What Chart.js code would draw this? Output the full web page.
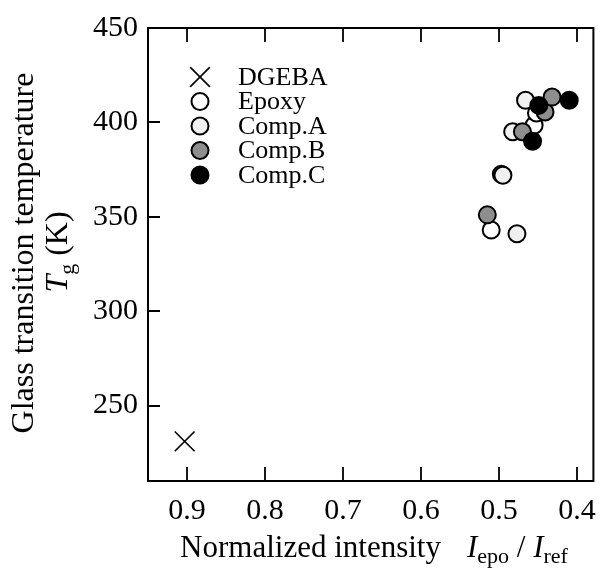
<!DOCTYPE html>
<html>
<head>
<meta charset="utf-8">
<script src="https://cdn.jsdelivr.net/npm/chart.js@4/dist/chart.umd.min.js"></script>
<style>
  html, body { margin: 0; padding: 0; background: #fff; }
  canvas { display: block; }
</style>
</head>
<body>
<canvas id="tgChart" width="609" height="570"></canvas>
<script>
// Glass transition temperature vs. normalized epoxy band intensity
const seriesNames = ['DGEBA', 'Epoxy', 'Comp.A', 'Comp.B', 'Comp.C'];

const dgebaX = [0.903];
const dgebaY = [231];
const epoxyX = [0.510, 0.497, 0.455, 0.452];
const epoxyY = [343, 372.5, 398.5, 405];
const compAX = [0.477, 0.495, 0.4825, 0.466];
const compAY = [341, 372, 395, 411.7];
const compBX = [0.515, 0.470, 0.441, 0.432];
const compBY = [351, 395, 405.5, 413.4];
const compCX = [0.457, 0.449, 0.410];
const compCY = [390, 409, 411.7];

const xTicks = [0.9, 0.8, 0.7, 0.6, 0.5, 0.4];
const yTicks = [250, 300, 350, 400, 450];

const SERIF = '"Liberation Serif", "Times New Roman", serif';

function toPoints(xs, ys) {
  return xs.map((x, i) => ({ x: x, y: ys[i] }));
}

function circleSet(label, xs, ys, fill, order) {
  return {
    label: label,
    data: toPoints(xs, ys),
    pointStyle: 'circle',
    pointRadius: 8.5,
    pointHoverRadius: 8.5,
    pointBorderWidth: 2,
    pointBackgroundColor: fill,
    pointBorderColor: '#000',
    order: order
  };
}

const datasets = [
  {
    label: seriesNames[0],
    data: toPoints(dgebaX, dgebaY),
    pointStyle: 'crossRot',
    pointRadius: 14,
    pointHoverRadius: 14,
    pointBorderWidth: 1.6,
    pointBorderColor: '#000',
    pointBackgroundColor: '#000',
    order: 4
  },
  circleSet(seriesNames[1], epoxyX, epoxyY, '#ffffff', 3),
  circleSet(seriesNames[2], compAX, compAY, '#f0f0f0', 2),
  circleSet(seriesNames[3], compBX, compBY, '#8e8e8e', 1),
  circleSet(seriesNames[4], compCX, compCY, '#000000', 0)
];

// white page, frame and inward tick marks
const framePlugin = {
  id: 'frame',
  beforeDraw(chart) {
    const ctx = chart.ctx;
    ctx.save();
    ctx.fillStyle = '#fff';
    ctx.fillRect(0, 0, chart.width, chart.height);
    ctx.restore();
  },
  afterDatasetsDraw(chart) {
    const { ctx, chartArea: a, scales } = chart;
    ctx.save();
    ctx.strokeStyle = '#000';
    ctx.lineWidth = 2;
    ctx.strokeRect(a.left, a.top, a.right - a.left, a.bottom - a.top);
    ctx.lineWidth = 1.8;
    ctx.beginPath();
    xTicks.forEach(v => {
      const px = Math.round(scales.x.getPixelForValue(v));
      ctx.moveTo(px, a.bottom);
      ctx.lineTo(px, a.bottom - 14);
      ctx.moveTo(px, a.top);
      ctx.lineTo(px, a.top + 14);
    });
    yTicks.forEach(v => {
      const py = Math.round(scales.y.getPixelForValue(v));
      ctx.moveTo(a.left, py);
      ctx.lineTo(a.left + 12, py);
    });
    ctx.stroke();
    ctx.restore();
  }
};

// legend in the upper left of the plot
const legendPlugin = {
  id: 'insideLegend',
  afterDraw(chart) {
    const ctx = chart.ctx;
    const rowY = [77, 101.5, 126, 150.5, 175];
    ctx.save();
    seriesNames.forEach((name, i) => {
      const el = chart.getDatasetMeta(i).data[0];
      const o = el.options;
      ctx.fillStyle = o.backgroundColor;
      ctx.strokeStyle = o.borderColor;
      ctx.lineWidth = o.borderWidth;
      Chart.helpers.drawPoint(ctx, {
        pointStyle: o.pointStyle,
        rotation: 0,
        radius: o.radius,
        borderWidth: o.borderWidth
      }, 200, rowY[i]);
      ctx.fillStyle = '#000';
      ctx.font = '26px ' + SERIF;
      ctx.textAlign = 'left';
      ctx.textBaseline = 'middle';
      ctx.fillText(name, 238, rowY[i] + 1);
    });
    ctx.restore();
  }
};

// axis titles with italic symbols and subscripts
function drawRich(ctx, parts, x, y) {
  let w = 0;
  parts.forEach(p => { ctx.font = p.font; p.w = ctx.measureText(p.text).width; w += p.w + (p.gap || 0); });
  let cx = x - w / 2;
  parts.forEach(p => {
    ctx.font = p.font;
    ctx.fillText(p.text, cx, y + (p.dy || 0));
    cx += p.w + (p.gap || 0);
  });
}

const titlePlugin = {
  id: 'axisTitles',
  afterDraw(chart) {
    const ctx = chart.ctx;
    const reg = '31px ' + SERIF;
    const ita = 'italic 31px ' + SERIF;
    const sub = '22px ' + SERIF;
    ctx.save();
    ctx.fillStyle = '#000';
    ctx.textAlign = 'left';
    ctx.textBaseline = 'alphabetic';
    drawRich(ctx, [
      { text: 'Normalized intensity', font: reg, gap: 26 },
      { text: 'I', font: ita },
      { text: 'epo', font: sub, dy: 6 },
      { text: ' / ', font: reg },
      { text: 'I', font: ita },
      { text: 'ref', font: sub, dy: 6 }
    ], 374, 557);

    ctx.save();
    ctx.translate(33, 253);
    ctx.rotate(-Math.PI / 2);
    ctx.font = '32px ' + SERIF;
    ctx.textAlign = 'center';
    ctx.fillText('Glass transition temperature', 0, 0);
    ctx.restore();

    ctx.save();
    ctx.translate(67, 252);
    ctx.rotate(-Math.PI / 2);
    ctx.textAlign = 'left';
    drawRich(ctx, [
      { text: 'T', font: 'italic 32px ' + SERIF },
      { text: 'g', font: sub, dy: 7 },
      { text: ' (K)', font: '32px ' + SERIF }
    ], 0, 0);
    ctx.restore();
    ctx.restore();
  }
};

new Chart(document.getElementById('tgChart'), {
  type: 'scatter',
  data: { datasets: datasets },
  options: {
    responsive: false,
    animation: false,
    events: [],
    layout: { padding: { top: 26, right: 6, left: 0, bottom: 0 } },
    plugins: {
      legend: { display: false },
      tooltip: { enabled: false }
    },
    scales: {
      x: {
        type: 'linear',
        reverse: true,
        min: 0.379,
        max: 0.95,
        afterBuildTicks: s => { s.ticks = xTicks.map(v => ({ value: v })); },
        afterFit: s => { s.height = 89; },
        grid: { display: false, drawTicks: false },
        border: { display: false },
        ticks: {
          color: '#000',
          padding: 12,
          maxRotation: 0,
          font: { family: SERIF, size: 30 },
          callback: v => v.toFixed(1)
        }
      },
      y: {
        type: 'linear',
        min: 210,
        max: 450,
        afterBuildTicks: s => { s.ticks = yTicks.map(v => ({ value: v })); },
        afterFit: s => { s.width = 148; },
        grid: { display: false, drawTicks: false },
        border: { display: false },
        ticks: {
          color: '#000',
          padding: 10,
          font: { family: SERIF, size: 30 },
          callback: v => String(v)
        }
      }
    }
  },
  plugins: [framePlugin, legendPlugin, titlePlugin]
});
</script>
</body>
</html>
